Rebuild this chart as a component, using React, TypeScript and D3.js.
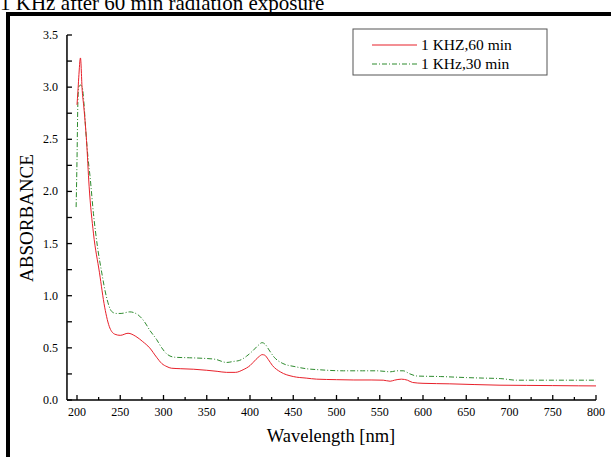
import React from "react";
import * as d3 from "d3";

const wl60 = [200, 201, 202, 204, 206, 208, 211, 214, 219, 226, 232, 238, 244, 250, 259, 268, 276, 284, 292, 298, 304, 309, 320, 335, 350, 362, 373, 383, 392, 400, 407, 411, 414, 417, 421, 426, 435, 450, 465, 477, 500, 520, 540, 554, 562, 567, 575, 582, 588, 600, 631, 660, 689, 720, 750, 780, 800];
const abs60 = [2.83, 2.95, 3.09, 3.28, 2.97, 2.8, 2.49, 2.05, 1.6, 1.22, 0.89, 0.69, 0.63, 0.62, 0.64, 0.61, 0.56, 0.5, 0.41, 0.35, 0.32, 0.305, 0.3, 0.295, 0.285, 0.275, 0.265, 0.265, 0.29, 0.33, 0.39, 0.42, 0.435, 0.43, 0.39, 0.33, 0.27, 0.225, 0.21, 0.2, 0.195, 0.192, 0.192, 0.19, 0.18, 0.19, 0.2, 0.19, 0.168, 0.16, 0.155, 0.148, 0.142, 0.14, 0.138, 0.136, 0.135];

const wl30 = [199, 200, 201, 202, 204, 206, 208, 210, 213, 215, 219, 224, 228, 234, 240, 245, 251, 261, 270, 278, 284, 292, 298, 304, 313, 330, 345, 360, 373, 381, 388, 396, 403, 409, 414, 418, 422, 428, 438, 452, 465, 480, 508, 530, 546, 555, 562, 570, 577, 585, 593, 620, 650, 670, 690, 708, 740, 770, 800];
const abs30 = [1.85, 2.3, 2.85, 3.0, 3.02, 3.0, 2.85, 2.6, 2.3, 2.15, 1.79, 1.45, 1.25, 0.99, 0.85, 0.83, 0.83, 0.845, 0.82, 0.75, 0.67, 0.58, 0.5, 0.44, 0.41, 0.405, 0.4, 0.39, 0.36, 0.37, 0.38, 0.42, 0.47, 0.52, 0.55, 0.53, 0.48, 0.41, 0.35, 0.32, 0.3, 0.29, 0.28, 0.28, 0.28, 0.275, 0.27, 0.28, 0.28, 0.25, 0.23, 0.225, 0.215, 0.21, 0.205, 0.19, 0.19, 0.19, 0.19];

const xTicks = [200, 250, 300, 350, 400, 450, 500, 550, 600, 650, 700, 750, 800];
const yTicks = [0.0, 0.5, 1.0, 1.5, 2.0, 2.5, 3.0, 3.5];
const legendLabels = ["1 KHZ,60 min", "1 KHz,30 min"];
const titleText = "1 KHz after 60 min radiation exposure";

const RED = "#e8202a";
const GREEN = "#2e8b2e";
const FONT = "Liberation Serif, Times New Roman, serif";
const ts = { fontFamily: FONT };

export default function App() {
  const W = 612, H = 457;
  const x = d3.scaleLinear().domain([200, 800]).range([77, 596]);
  const y = d3.scaleLinear().domain([0, 3.5]).range([400, 35]);
  const x0 = x(188.4);
  const line = d3.line<[number, number]>().x(d => x(d[0])).y(d => y(d[1])).curve(d3.curveMonotoneX);
  const d60 = line(wl60.map((w, i) => [w, abs60[i]]) as [number, number][]) || "";
  const d30 = line(wl30.map((w, i) => [w, abs30[i]]) as [number, number][]) || "";
  const xMinor = d3.range(225, 800, 50);
  const yMinor = d3.range(0.25, 3.5, 0.5);

  return (
    <svg width={W} height={H} style={{ position: "absolute", left: 0, top: 0, background: "#fff" }}>
      <rect x={0} y={0} width={W} height={H} fill="#fff" />
      <text x={0} y={10} fontSize={21} fill="#000" style={ts}>{titleText}</text>
      <rect x={6} y={12} width={605} height={4} fill="#000" />
      <rect x={6} y={12} width={4} height={H - 12} fill="#000" />

      <line x1={x0} x2={x0} y1={y(3.5)} y2={y(0)} stroke="#000" strokeWidth={1.5} />
      <line x1={x0} x2={x(800)} y1={y(0)} y2={y(0)} stroke="#000" strokeWidth={1.5} />
      {yTicks.map(t => (
        <g key={"y" + t}>
          <line x1={x0} x2={x0 + 5} y1={y(t)} y2={y(t)} stroke="#000" strokeWidth={1.3} />
          <text x={x0 - 9} y={y(t) + 4} textAnchor="end" fontSize={12} style={ts}>{t.toFixed(1)}</text>
        </g>
      ))}
      {yMinor.map(t => (
        <line key={"ym" + t} x1={x0} x2={x0 + 5} y1={y(t)} y2={y(t)} stroke="#000" strokeWidth={1.3} />
      ))}
      {xTicks.map(t => (
        <g key={"x" + t}>
          <line x1={x(t)} x2={x(t)} y1={y(0)} y2={y(0) - 5} stroke="#000" strokeWidth={1.3} />
          <text x={x(t)} y={y(0) + 16} textAnchor="middle" fontSize={12} style={ts}>{t}</text>
        </g>
      ))}
      {xMinor.map(t => (
        <line key={"xm" + t} x1={x(t)} x2={x(t)} y1={y(0)} y2={y(0) - 3} stroke="#000" strokeWidth={1.3} />
      ))}
      <text x={331} y={442} textAnchor="middle" fontSize={18.5} style={ts}>Wavelength [nm]</text>
      <text transform={`translate(33,218) rotate(-90)`} textAnchor="middle" fontSize={19} style={ts}>ABSORBANCE</text>

      <path d={d30} fill="none" stroke={GREEN} strokeWidth={1} strokeDasharray="5,2,1,2" />
      <path d={d60} fill="none" stroke={RED} strokeWidth={1} />

      <rect x={353} y={29} width={194} height={46} fill="#fff" stroke="#555" strokeWidth={1} />
      <line x1={372} x2={417} y1={45} y2={45} stroke={RED} strokeWidth={1.2} />
      <text x={421} y={50} fontSize={15.5} style={ts}>{legendLabels[0]}</text>
      <line x1={372} x2={417} y1={64} y2={64} stroke={GREEN} strokeWidth={1.2} strokeDasharray="5,2,1,2" />
      <text x={421} y={69} fontSize={15.5} style={ts}>{legendLabels[1]}</text>
    </svg>
  );
}
